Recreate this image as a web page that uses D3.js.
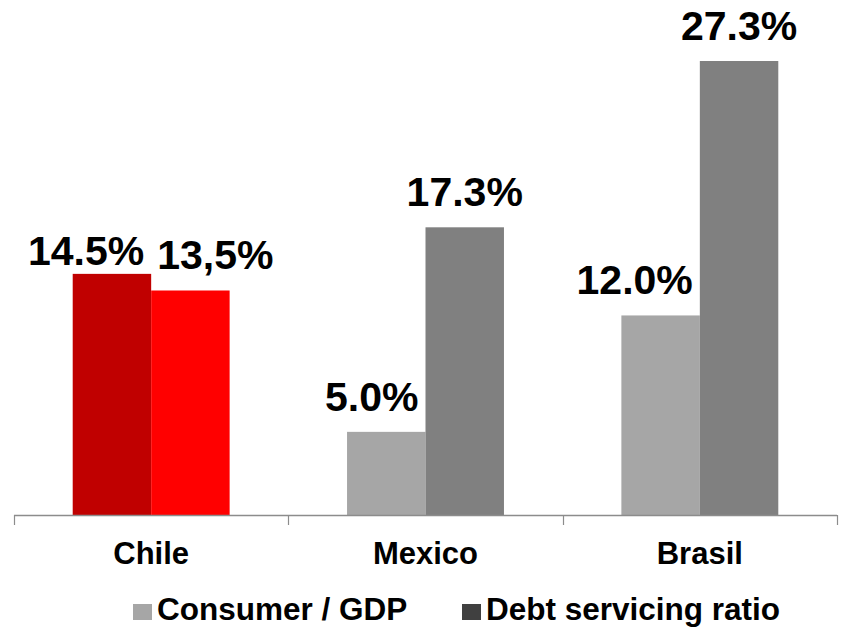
<!DOCTYPE html>
<html>
<head>
<meta charset="utf-8">
<script src="https://cdn.jsdelivr.net/npm/d3@7"></script>
<style>
  html, body { margin: 0; padding: 0; background: #fff; }
  svg { display: block; font-family: "Liberation Sans", Arial, sans-serif; font-weight: bold; }
</style>
</head>
<body>
<svg id="chart" width="841" height="629"></svg>
<script>
const categories = ["Chile", "Mexico", "Brasil"];
const seriesNames = ["Consumer / GDP", "Debt servicing ratio"];
const consumerGdp = [14.5, 5.0, 12.0];
const debtServicing = [13.5, 17.3, 27.3];
const consumerLabels = ["14.5%", "5.0%", "12.0%"];
const debtLabels = ["13,5%", "17.3%", "27.3%"];

const seriesValues = [consumerGdp, debtServicing];
const seriesLabels = [consumerLabels, debtLabels];

const svg = d3.select("#chart");
const baseY = 515;
const x = d3.scaleBand().domain(categories).range([14, 837]).paddingInner(0).paddingOuter(0);
const bw = x.bandwidth();
const x1 = d3.scaleBand().domain(seriesNames).range([bw * 0.214, bw * 0.786]).padding(0);
const y = d3.scaleLinear().domain([0, 30]).range([baseY, baseY - 30 * 16.63]);

const colorFor = (cat, si) => {
  if (cat === "Chile") return si === 0 ? "#C00000" : "#FF0000";
  return si === 0 ? "#A6A6A6" : "#808080";
};
const legendColors = ["#A6A6A6", "#404040"];

const data = [];
categories.forEach((c, ci) => {
  seriesNames.forEach((s, si) => {
    data.push({ cat: c, series: s, si, value: seriesValues[si][ci], label: seriesLabels[si][ci] });
  });
});

// bars
svg.append("g").selectAll("rect").data(data).join("rect")
  .attr("x", d => x(d.cat) + x1(d.series))
  .attr("y", d => y(d.value))
  .attr("width", x1.bandwidth())
  .attr("height", d => y(0) - y(d.value))
  .attr("fill", d => colorFor(d.cat, d.si));

// axis
const axis = d3.axisBottom(x).tickSize(0).tickFormat("");
const gAxis = svg.append("g").attr("transform", `translate(0,${baseY})`).call(axis);
gAxis.select(".domain").remove();
svg.append("line").attr("x1", 14).attr("x2", 837).attr("y1", baseY + 0.5).attr("y2", baseY + 0.5)
  .attr("stroke", "#8C8C8C").attr("stroke-width", 1.5);
const boundaries = categories.map(c => x(c)).concat([x(categories[categories.length - 1]) + bw]);
svg.append("g").selectAll("line").data(boundaries).join("line")
  .attr("x1", d => Math.round(d) + 0.5).attr("x2", d => Math.round(d) + 0.5)
  .attr("y1", baseY).attr("y2", baseY + 10)
  .attr("stroke", "#8C8C8C").attr("stroke-width", 1.2);

// category labels
svg.append("g").selectAll("text").data(categories).join("text")
  .attr("x", d => x(d) + bw / 2)
  .attr("y", 564)
  .attr("text-anchor", "middle")
  .attr("font-size", 31)
  .attr("fill", "#000")
  .text(d => d);

// value labels
const gLab = svg.append("g");
categories.forEach((c, ci) => {
  const x0 = x(c);
  const dC = data.find(d => d.cat === c && d.si === 0);
  const cRight = x0 + x1(seriesNames[0]) + x1.bandwidth() - 7;
  const tC = gLab.append("text")
    .attr("x", cRight).attr("y", y(dC.value) - 21)
    .attr("text-anchor", "end").attr("font-size", 41).attr("fill", "#000")
    .text(dC.label);
  const cBox = tC.node().getBBox();
  const dD = data.find(d => d.cat === c && d.si === 1);
  const cx = x0 + x1(seriesNames[1]) + x1.bandwidth() / 2;
  const tD = gLab.append("text")
    .attr("x", cx).attr("y", y(dD.value) - 21)
    .attr("text-anchor", "middle").attr("font-size", 41).attr("fill", "#000")
    .text(dD.label);
  const dBox = tD.node().getBBox();
  const vOverlap = !(dBox.y > cBox.y + cBox.height || cBox.y > dBox.y + dBox.height);
  if (vOverlap && dBox.x < cBox.x + cBox.width + 8) {
    tD.attr("text-anchor", "start").attr("x", cBox.x + cBox.width + 13);
    // lower the neighbouring consumer label slightly, as in the reference
    tC.attr("y", y(dC.value) - 9);
  }
});

// legend
const legendItems = [
  { name: seriesNames[0], color: legendColors[0], sx: 133, tx: 157 },
  { name: seriesNames[1], color: legendColors[1], sx: 462, tx: 486 }
];
const gLeg = svg.append("g");
legendItems.forEach(it => {
  gLeg.append("rect").attr("x", it.sx).attr("y", 604).attr("width", 19).attr("height", 16).attr("fill", it.color);
  gLeg.append("text").attr("x", it.tx).attr("y", 620).attr("font-size", 31.5).attr("fill", "#000").text(it.name);
});
</script>
</body>
</html>
